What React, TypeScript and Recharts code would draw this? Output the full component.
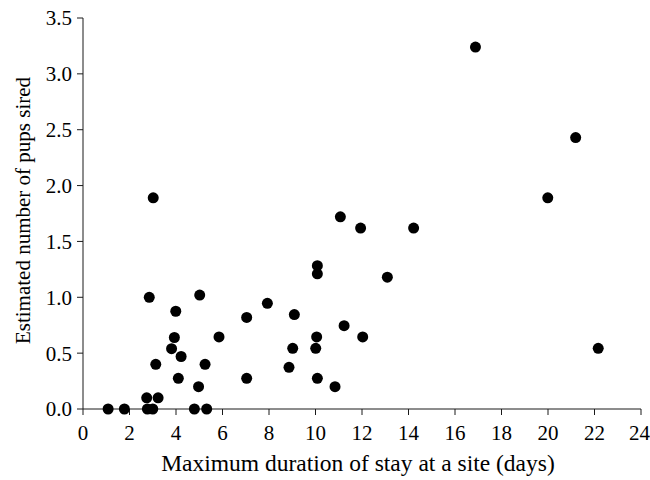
import React from "react";
import {
  ScatterChart,
  Scatter,
  XAxis,
  YAxis,
  Label
} from "recharts";

// max duration of stay (days) and estimated pups sired
const stayDays = [
  1.08, 1.78, 2.77, 3.0, 4.79, 5.32, 2.74, 3.23, 2.85, 5.02, 3.99, 3.93, 3.81, 4.22,
  3.13, 5.25, 4.1, 4.97, 5.85, 7.04, 7.04, 7.93, 9.09, 8.86, 9.02, 10.08, 10.08, 10.05,
  10.01, 10.08, 10.84, 11.23, 12.03, 11.07, 11.94, 14.22, 13.09, 3.02, 16.88, 21.19,
  19.99, 22.16
];
const pupsSired = [
  0, 0, 0, 0, 0, 0, 0.1, 0.1, 1.0, 1.02, 0.875, 0.64, 0.54, 0.47,
  0.4, 0.4, 0.275, 0.2, 0.645, 0.82, 0.275, 0.946, 0.845, 0.373, 0.543, 1.283, 1.21, 0.645,
  0.543, 0.275, 0.2, 0.746, 0.645, 1.72, 1.62, 1.62, 1.18, 1.89, 3.24, 2.43,
  1.89, 0.543
];
const xTicks = [0, 2, 4, 6, 8, 10, 12, 14, 16, 18, 20, 22, 24];
const yTicks = [0, 0.5, 1, 1.5, 2, 2.5, 3, 3.5];

const data = stayDays.map((x, i) => ({ x, y: pupsSired[i] }));

const font = "Liberation Serif";
const ink = "#1a1a1a";
const tickStyle = { fill: "#000", fontSize: 21, fontFamily: font, style: { fontFamily: font } };

const Dot = (props: any) => (
  <circle cx={props.cx} cy={props.cy} r={5.5} fill="#000" />
);

// axis titles placed off the axis viewBox
const XTitle = (props: any) => {
  const vb = props.viewBox;
  return (
    <text
      x={vb.x + vb.width / 2 - 4}
      y={471}
      textAnchor="middle"
      fill="#000"
      fontSize={23.5}
      style={{ fontFamily: font }}
    >
      Maximum duration of stay at a site (days)
    </text>
  );
};

const YTitle = (props: any) => {
  const vb = props.viewBox;
  const cx = 30;
  const cy = vb.y + vb.height / 2 - 3;
  return (
    <text
      x={cx}
      y={cy}
      transform={`rotate(-90 ${cx} ${cy})`}
      textAnchor="middle"
      fill="#000"
      fontSize={21}
      style={{ fontFamily: font }}
    >
      Estimated number of pups sired
    </text>
  );
};

export default function App() {
  return (
    <div
      style={{
        position: "absolute",
        left: 0,
        top: 0,
        background: "#fff",
        fontFamily: "'Liberation Serif', serif"
      }}
    >
      <ScatterChart
        width={650}
        height={480}
        margin={{ top: 18, right: 9, bottom: 0, left: 0 }}
        style={{ fontFamily: "'Liberation Serif', serif" }}
      >
        <XAxis
          type="number"
          dataKey="x"
          xAxisId="bottom"
          domain={[0, 24]}
          ticks={xTicks}
          tick={tickStyle}
          tickSize={6}
          tickMargin={10}
          height={71}
          stroke={ink}
        >
          <Label content={XTitle} />
        </XAxis>
        <XAxis
          type="number"
          dataKey="x"
          xAxisId="top"
          orientation="top"
          domain={[0, 24]}
          tick={false}
          tickLine={false}
          height={0}
          stroke={ink}
        />
        <YAxis
          type="number"
          dataKey="y"
          yAxisId="left"
          domain={[0, 3.5]}
          ticks={yTicks}
          tickFormatter={(v: number) => v.toFixed(1)}
          tick={tickStyle}
          tickSize={6}
          tickMargin={5}
          width={83}
          stroke={ink}
        >
          <Label content={YTitle} />
        </YAxis>
        <YAxis
          type="number"
          dataKey="y"
          yAxisId="right"
          orientation="right"
          domain={[0, 3.5]}
          tick={false}
          tickLine={false}
          width={0}
          stroke={ink}
        />
        <Scatter
          data={data}
          xAxisId="bottom"
          yAxisId="left"
          fill="#000"
          shape={Dot}
          isAnimationActive={false}
        />
      </ScatterChart>
    </div>
  );
}
